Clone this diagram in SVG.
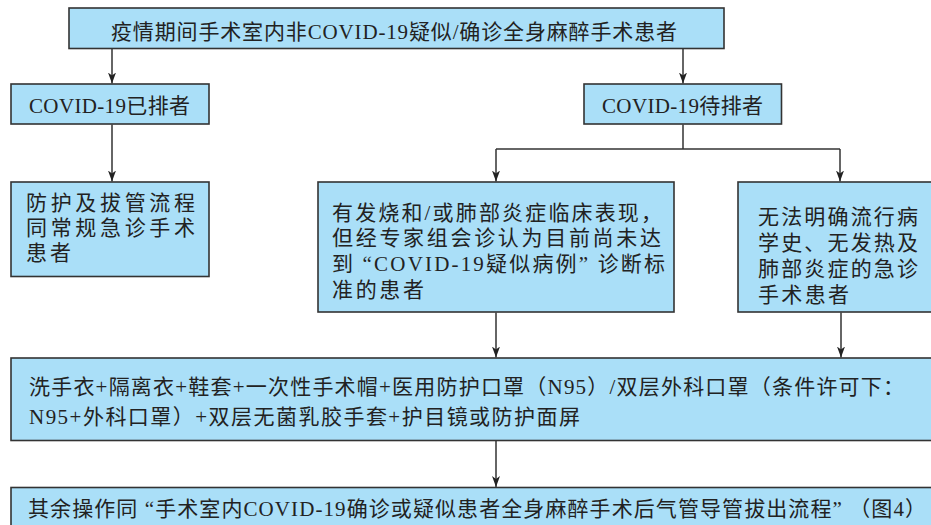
<svg xmlns="http://www.w3.org/2000/svg" width="931" height="525" viewBox="0 0 931 525">
<style>
.box{fill:#aadff8;stroke:#333;stroke-width:1.6}
.t{font-family:"Liberation Serif","Noto Sans CJK SC",serif;fill:#222;font-size:21px}
.c{stroke:#333;stroke-width:1.5;fill:none}
</style>
<defs>
<marker id="ah" markerWidth="12" markerHeight="8" refX="11" refY="4" orient="auto" markerUnits="userSpaceOnUse" viewBox="0 0 12 8">
<path d="M0 0 L11 4 L0 8 L3 4 Z" fill="#222"/>
</marker>
</defs>
<rect width="931" height="525" fill="#fff"/>
<g id="connectors">
<path class="c" d="M112 48.5 V83.5" marker-end="url(#ah)"/>
<path class="c" d="M683 48.5 V83.5" marker-end="url(#ah)"/>
<path class="c" d="M112 124.5 V181.5" marker-end="url(#ah)"/>
<path class="c" d="M683 124.5 V149"/>
<path class="c" d="M496 149 H840"/>
<path class="c" d="M496 149 V181.5" marker-end="url(#ah)"/>
<path class="c" d="M840 149 V181.5" marker-end="url(#ah)"/>
<path class="c" d="M496 312.5 V357.5" marker-end="url(#ah)"/>
<path class="c" d="M841 312.5 V357.5" marker-end="url(#ah)"/>
<path class="c" d="M496 441 V487" marker-end="url(#ah)"/>
</g>
<g id="n-top">
<rect class="box" x="69" y="8" width="655" height="40.5"/>
<text class="t" x="111" y="39" font-size="22" textLength="566" lengthAdjust="spacing">疫情期间手术室内非COVID-19疑似/确诊全身麻醉手术患者</text>
</g>
<g id="n-excluded">
<rect class="box" x="11" y="84" width="198" height="40"/>
<text class="t" x="29" y="112.5" font-size="20" textLength="161" lengthAdjust="spacing">COVID-19已排者</text>
</g>
<g id="n-pending">
<rect class="box" x="584" y="84" width="197.5" height="40"/>
<text class="t" x="602" y="112.5" font-size="20" textLength="161" lengthAdjust="spacing">COVID-19待排者</text>
</g>
<g id="n-routine">
<rect class="box" x="11" y="182" width="198" height="94.5"/>
<text class="t" x="26" y="210" font-size="20" textLength="169" lengthAdjust="spacing">防护及拔管流程</text>
<text class="t" x="26" y="235" font-size="20" textLength="169" lengthAdjust="spacing">同常规急诊手术</text>
<text class="t" x="26" y="260" font-size="20" textLength="45" lengthAdjust="spacing">患者</text>
</g>
<g id="n-symptom">
<rect class="box" x="318" y="182" width="356" height="130"/>
<text class="t" x="332" y="220" textLength="330" lengthAdjust="spacing">有发烧和/或肺部炎症临床表现，</text>
<text class="t" x="332" y="245" textLength="329" lengthAdjust="spacing">但经专家组会诊认为目前尚未达</text>
<text class="t" x="332" y="271" textLength="333" lengthAdjust="spacing">到 “COVID-19疑似病例” 诊断标</text>
<text class="t" x="332" y="297" textLength="92" lengthAdjust="spacing">准的患者</text>
</g>
<g id="n-unclear">
<rect class="box" x="738" y="182" width="200" height="130"/>
<text class="t" x="758" y="224" textLength="160" lengthAdjust="spacing">无法明确流行病</text>
<text class="t" x="758" y="250" textLength="160" lengthAdjust="spacing">学史、无发热及</text>
<text class="t" x="758" y="276" textLength="160" lengthAdjust="spacing">肺部炎症的急诊</text>
<text class="t" x="758" y="302" textLength="91" lengthAdjust="spacing">手术患者</text>
</g>
<g id="n-protect">
<rect class="box" x="11" y="358" width="930" height="82.5"/>
<text class="t" x="29" y="394" textLength="875" lengthAdjust="spacing">洗手衣+隔离衣+鞋套+一次性手术帽+医用防护口罩（N95）/双层外科口罩（条件许可下：</text>
<text class="t" x="29" y="424" textLength="551" lengthAdjust="spacing">N95+外科口罩）+双层无菌乳胶手套+护目镜或防护面屏</text>
</g>
<g id="n-rest">
<rect class="box" x="11" y="487.5" width="930" height="50"/>
<text class="t" x="28" y="516" textLength="898" lengthAdjust="spacing">其余操作同 “手术室内COVID-19确诊或疑似患者全身麻醉手术后气管导管拔出流程” （图4）</text>
</g>
</svg>
